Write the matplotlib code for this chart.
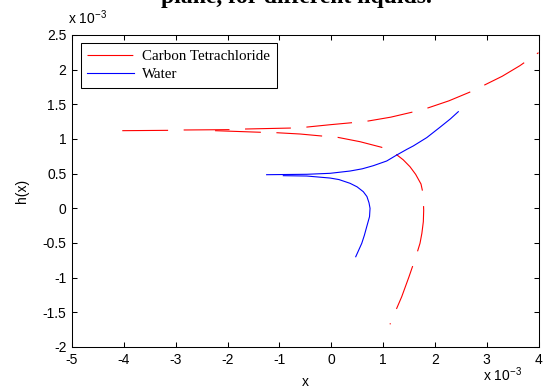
import matplotlib
matplotlib.use("Agg")
import matplotlib.pyplot as plt

# ---- data (values in units of 1e-3, as shown on the axes) ----
ccl4_upper_x = [-4.03, -3.14, -2.84, -1.95, -1.66, -0.775, -0.47, -0.02, 0.40, 0.72,
                1.15, 1.55, 1.875, 2.27, 2.665, 2.935, 3.30, 3.64, 4.0]
ccl4_upper_y = [1.12, 1.125, 1.13, 1.135, 1.144, 1.158, 1.172, 1.206, 1.235, 1.26,
                1.315, 1.385, 1.45, 1.55, 1.673, 1.77, 1.905, 2.057, 2.245]

ccl4_lower_x = [-2.24, -1.36, -1.06, -0.60, -0.18, 0.126, 0.557, 0.975, 1.10, 1.245,
                1.39, 1.521, 1.63, 1.733, 1.765, 1.778, 1.785, 1.778, 1.75, 1.714,
                1.631, 1.50, 1.361, 1.251, 1.135]
ccl4_lower_y = [1.12, 1.097, 1.091, 1.072, 1.043, 1.024, 0.961, 0.88, 0.84, 0.784,
                0.70, 0.60, 0.49, 0.351, 0.24, 0.13, -0.03, -0.193, -0.36, -0.504,
                -0.706, -0.99, -1.275, -1.466, -1.673]

water_upper_x = [-1.245, -0.472, -0.022, 0.364, 0.60, 0.813, 1.072, 1.265, 1.458, 1.585,
                 1.844, 2.10, 2.30, 2.453]
water_upper_y = [0.485, 0.491, 0.505, 0.538, 0.57, 0.615, 0.683, 0.769, 0.85, 0.9,
                 1.02, 1.17, 1.29, 1.394]

water_lower_x = [-0.923, -0.472, -0.022, 0.15, 0.364, 0.50, 0.62, 0.69, 0.73, 0.75,
                 0.74, 0.686, 0.64, 0.59, 0.474]
water_lower_y = [0.471, 0.466, 0.437, 0.415, 0.361, 0.31, 0.24, 0.17, 0.08, 0.0,
                 -0.12, -0.265, -0.39, -0.505, -0.698]

x_ticks = [-5, -4, -3, -2, -1, 0, 1, 2, 3, 4]
y_ticks = [-2, -1.5, -1, -0.5, 0, 0.5, 1, 1.5, 2, 2.5]
y_tick_labels = ["-2", "-1.5", "-1", "-0.5", "0", "0.5", "1", "1.5", "2", "2.5"]
x_tick_labels = ["-5", "-4", "-3", "-2", "-1", "0", "1", "2", "3", "4"]

series_names = ["Carbon Tetrachloride", "Water"]
title_line = "plane, for different liquids."

# ---- figure ----
plt.rcParams["axes.unicode_minus"] = False
plt.rcParams["font.family"] = ["Liberation Sans", "DejaVu Sans"]
plt.rcParams["lines.scale_dashes"] = False

W, H = 543, 390
fig = plt.figure(figsize=(W / 100, H / 100), dpi=100)
fig.patch.set_facecolor("white")

L, R, T, B = 72, 538.5, 35, 347
ax = fig.add_axes([L / W, 1 - B / H, (R - L) / W, (B - T) / H])

dash = (0, (33.0, 11.2))
ax.plot(ccl4_upper_x, ccl4_upper_y, color="red", lw=0.8, linestyle=dash,
        label=series_names[0])
ax.plot(ccl4_lower_x, ccl4_lower_y, color="red", lw=0.8, linestyle=dash)
ax.plot(water_upper_x, water_upper_y, color="blue", lw=0.8, label=series_names[1])
ax.plot(water_lower_x, water_lower_y, color="blue", lw=0.8)

ax.set_xlim(-5, 4)
ax.set_ylim(-2, 2.5)
ax.set_xticks(x_ticks)
ax.set_xticklabels(x_tick_labels)
ax.set_yticks(y_ticks)
ax.set_yticklabels(y_tick_labels)
ax.tick_params(direction="in", length=3.5, width=0.75, top=True, right=True,
               labelsize=10, pad=4, colors="black")
for s in ax.spines.values():
    s.set_linewidth(0.75)

ax.set_xlabel("x", fontsize=10, labelpad=6)
ax.set_ylabel("h(x)", fontsize=10, labelpad=10)

leg = ax.legend(loc="upper left", bbox_to_anchor=((80.7 - L) / (R - L), (B - 42.7) / (B - T)),
                borderaxespad=0, fancybox=False, edgecolor="black", framealpha=1,
                prop={"family": "Liberation Serif", "size": 10.8},
                handlelength=3.1, handletextpad=0.55, labelspacing=0.3,
                borderpad=0.45)
leg.get_frame().set_linewidth(0.75)

# offset (exponent) labels
fig.text(68 / W, 1 - 24 / H, r"x 10$^{\mathregular{-3}}$", fontsize=10,
         ha="left", va="baseline")
fig.text(483 / W, 1 - 381 / H, r"x 10$^{\mathregular{-3}}$", fontsize=10,
         ha="left", va="baseline")

# title (only its last line falls inside the image, as in the original)
fig.text(296 / W, 1 - 2.5 / H, title_line, fontsize=17, fontweight="bold",
         family="Liberation Serif", ha="center", va="baseline")

fig.savefig("out.png", dpi=100, facecolor="white")
